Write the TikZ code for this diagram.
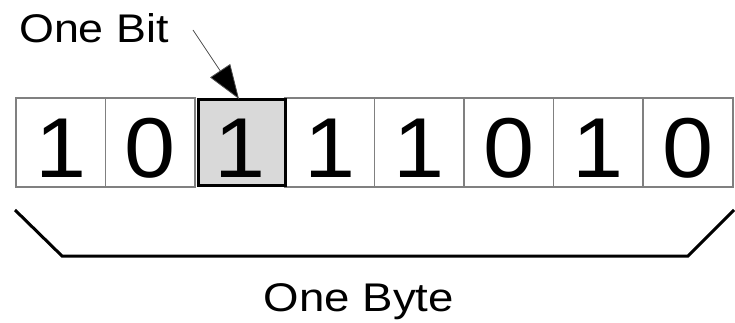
\documentclass[tikz,border=0pt]{standalone}
\usepackage{fontspec}
\setmainfont{Liberation Sans}
\usetikzlibrary{arrows.meta}
\begin{document}
\begin{tikzpicture}[x=1pt,y=-1pt,
  cell/.style={draw=black!50,line width=1.5pt,minimum width=89.6pt,minimum height=89pt,inner sep=0pt,outer sep=0pt,anchor=north west},
  sel/.style={draw=black,line width=3pt,fill=black!15},
  digit/.style={font=\fontsize{85}{85}\selectfont},
  lbl/.style={font=\fontsize{40}{40}\selectfont,inner sep=0pt}]
\useasboundingbox (0,0) rectangle (735,323);
\foreach \d [count=\i from 0] in {1,0,1,1,1,0,1,0}{
  \ifnum\i=2\relax\else
  \node[cell] (c\i) at ({16+89.6*\i},98) {};
  \fi
}
\node[cell,sel,minimum width=87pt,minimum height=86pt] (c2) at (198.5,99.5) {};
\foreach \d [count=\i from 0] in {1,0,1,1,1,0,1,0}{
  \node[digit,anchor=base] (d\i) at ({16+89.6*\i+44.8},177) {\scalebox{1.08}[1]{\d}};
}
\node[lbl,anchor=base west] (bit) at (19,43) {\scalebox{1.12}[1]{One Bit}};
\coordinate (a0) at (193,30);
\coordinate (a1) at (239,99);
\draw[black!70,line width=0.8pt,-{Triangle[length=34pt,width=24pt,fill=black]}] (a0) -- (a1);
\coordinate (b0) at (15,210);
\coordinate (b1) at (62,256);
\coordinate (b2) at (688,256);
\coordinate (b3) at (734,210);
\draw[line width=3pt] (b0) -- (b1) -- (b2) -- (b3);
\node[lbl,anchor=base] (byte) at (359,311) {\scalebox{1.14}[1]{One Byte}};
\end{tikzpicture}
\end{document}
